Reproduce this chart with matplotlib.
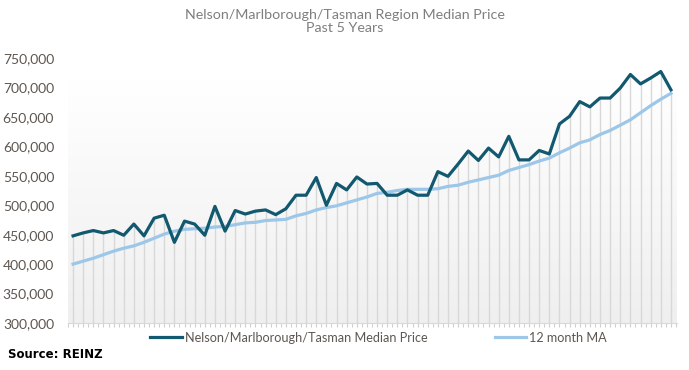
import numpy as np
import matplotlib
matplotlib.use("Agg")
import matplotlib.pyplot as plt

plt.rcParams['font.family'] = ['Lato', 'DejaVu Sans']

# monthly values, past 5 years
median_price = [448, 453, 457, 453, 457, 449, 468, 448, 478, 483,
                437, 473, 468, 449, 498, 456, 491, 485, 490, 492,
                484, 494, 517, 517, 547, 500, 537, 526, 548, 536,
                537, 517, 517, 526, 517, 517, 557, 549, 570, 592,
                576, 597, 582, 617, 577, 577, 593, 587, 638, 651,
                676, 667, 682, 682, 699, 722, 706, 716, 727, 696]
ma_12 = [400, 405, 410, 416, 422, 427, 431, 437, 444, 451,
         456, 459, 460, 461, 463, 464, 467, 470, 471, 474,
         475, 476, 482, 486, 492, 496, 499, 504, 509, 514,
         520, 522, 525, 527, 527, 527, 528, 532, 534, 539,
         543, 547, 551, 559, 564, 569, 575, 580, 589, 597,
         606, 611, 620, 627, 636, 645, 657, 669, 680, 690]
y_ticks = [300000, 350000, 400000, 450000, 500000, 550000, 600000, 650000, 700000, 750000]

median_price = np.array(median_price) * 1000
ma_12 = np.array(ma_12) * 1000
x = np.arange(len(median_price))

dark = '#12586f'
light = '#9cc7e8'
txt = '#5e5650'

fig = plt.figure(figsize=(6.89, 3.70), dpi=100)
ax = fig.add_axes([68 / 689, 47 / 370, 609 / 689, 265 / 370])

# gradient background of the plot area (white at top, light grey at bottom)
grad = np.linspace(0, 1, 256).reshape(-1, 1)
cmap = matplotlib.colors.LinearSegmentedColormap.from_list('bg', ['#ffffff', '#efefef'])
ax.imshow(grad, aspect='auto', cmap=cmap, extent=[-0.5, 59.6, 300000, 710000],
          origin='upper', zorder=0)

# drop lines from the median line to the axis
ax.vlines(x, 300000, median_price, color='#d8d8d8', lw=1, zorder=1)

ax.plot(x, median_price, color=dark, lw=2.3, zorder=3,
        label='Nelson/Marlborough/Tasman Median Price')
ax.plot(x, ma_12, color=light, lw=2.3, zorder=2, label='12 month MA')

ax.set_xlim(-0.5, 59.6)
ax.set_ylim(300000, 750000)
ax.set_yticks(y_ticks)
ax.set_yticklabels([f'{v:,}' for v in y_ticks], color=txt, fontsize=10)
ax.tick_params(axis='y', length=0, pad=10)
ax.set_xticks(np.arange(-0.5, 60, 0.5))
ax.set_xticklabels([])
ax.tick_params(axis='x', length=3, color='#d0d0d0', width=0.8)

for s in ['top', 'right', 'left']:
    ax.spines[s].set_visible(False)
ax.spines['bottom'].set_color('#d9d9d9')

fig.text(0.5, 0.975, 'Nelson/Marlborough/Tasman Region Median Price\nPast 5 Years',
         ha='center', va='top', color='#7f7f7f', fontsize=10.3, linespacing=1.05)

ax.legend(loc='center', bbox_to_anchor=(0.51, -0.055), ncol=2, frameon=False,
          fontsize=9.1, labelcolor=txt, handlelength=2.5, handletextpad=0.25,
          columnspacing=5.3, borderpad=0)

fig.text(8 / 689, 1 - 355 / 370, 'Source: REINZ', ha='left', va='center',
         fontsize=8.5, fontweight='bold', color='black', family='DejaVu Sans')

fig.savefig('out.png', dpi=100)
